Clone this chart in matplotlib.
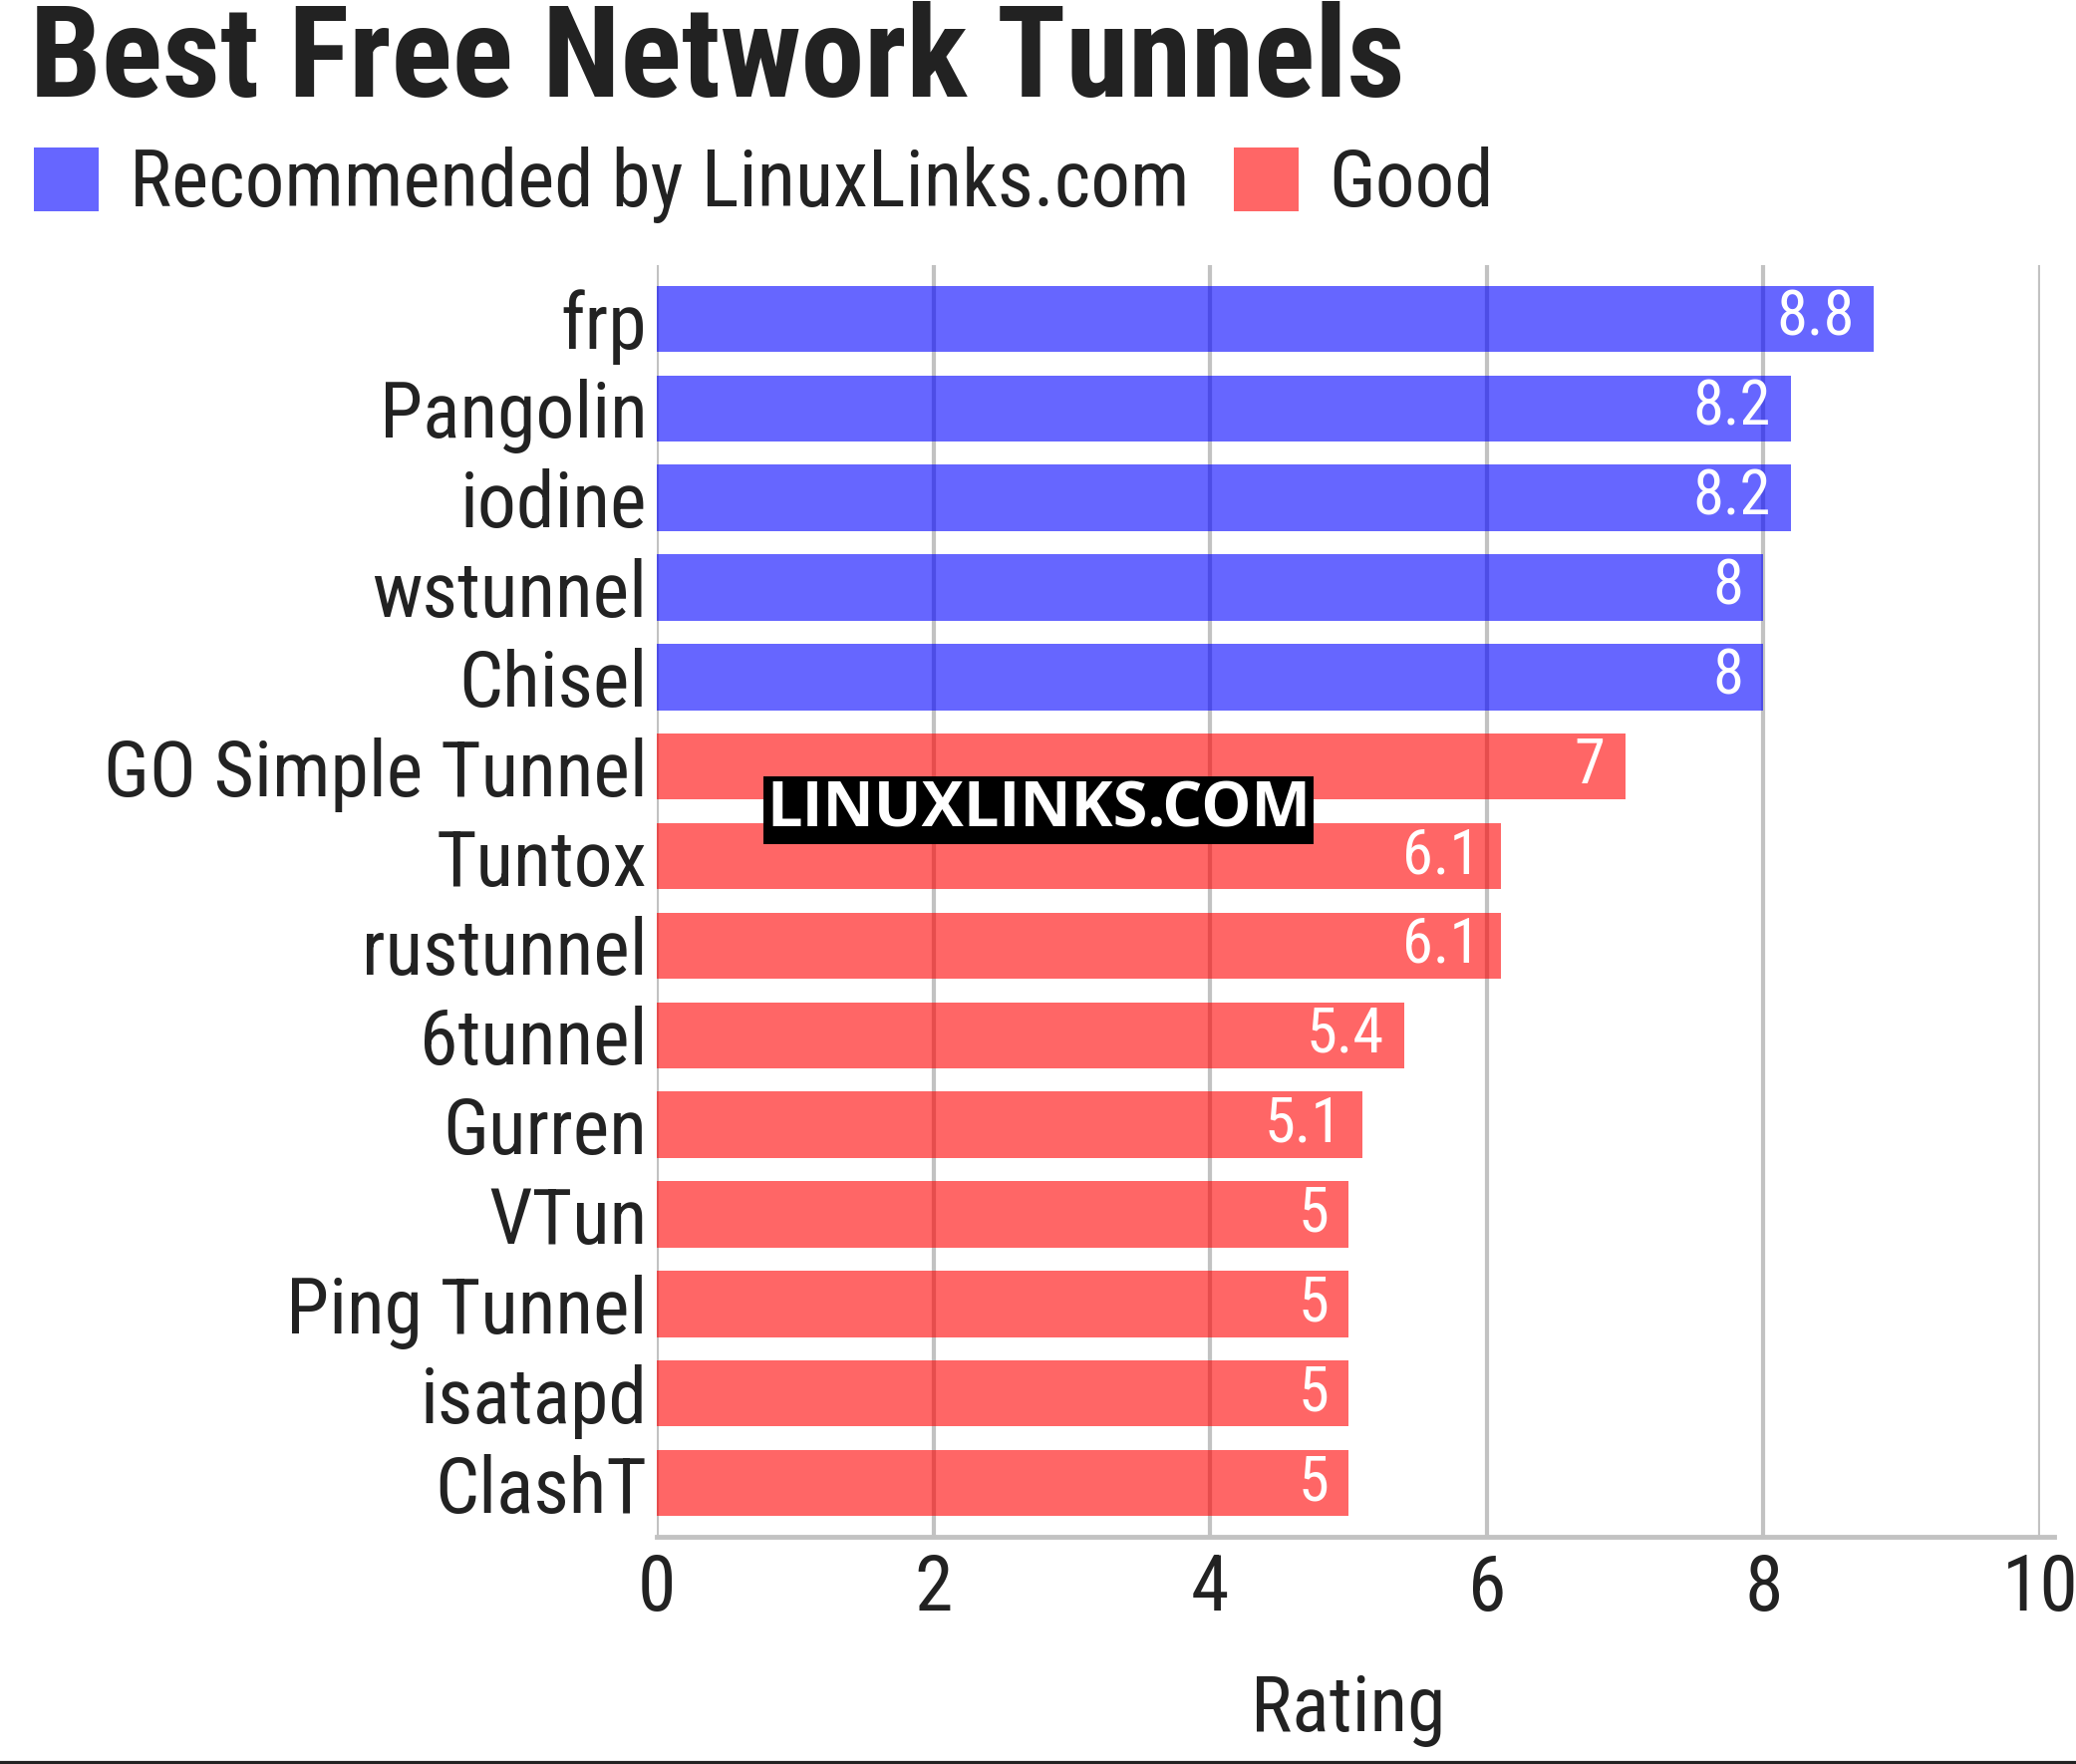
import matplotlib
matplotlib.use("Agg")
import matplotlib.pyplot as plt
from matplotlib.patches import Patch

categories = ["frp", "Pangolin", "iodine", "wstunnel", "Chisel", "GO Simple Tunnel",
              "Tuntox", "rustunnel", "6tunnel", "Gurren", "VTun", "Ping Tunnel",
              "isatapd", "ClashT"]
ratings = [8.8, 8.2, 8.2, 8.0, 8.0, 7.0, 6.1, 6.1, 5.4, 5.1, 5.0, 5.0, 5.0, 5.0]
groups = ["Recommended by LinuxLinks.com"] * 5 + ["Good"] * 9
group_colors = {"Recommended by LinuxLinks.com": "#0000ff", "Good": "#ff0000"}
BAR_ALPHA = 0.6
xticks = [0, 2, 4, 6, 8, 10]

FONT = "Roboto Condensed"
TXT = "#222222"
plt.rcParams['font.family'] = [FONT, 'DejaVu Sans']

fig = plt.figure(figsize=(20.83, 17.70), dpi=100)
ax = fig.add_axes([659/2083, 1-1542/1770, (2047-659)/2083, (1542-266)/1770])

ypos = list(range(len(categories)))
colors = [group_colors[g] for g in groups]
ax.barh(ypos, ratings, height=0.74, color=colors, alpha=BAR_ALPHA, zorder=2)
for y, v in zip(ypos, ratings):
    ax.annotate(f"{v:g}", xy=(v, y), xytext=(-20, 0), textcoords="offset pixels",
                ha="right", va="center", color="white", fontsize=45, zorder=4)

ax.set_xlim(0, 10)
ax.set_ylim(13.6, -0.6)
ax.set_xticks(xticks)
ax.set_xticklabels([str(t) for t in xticks], fontsize=56, color=TXT)
ax.set_yticks(ypos)
ax.set_yticklabels(categories, fontsize=56, color=TXT)
ax.tick_params(axis="both", length=0)
ax.tick_params(axis="x", pad=11)
ax.tick_params(axis="y", pad=7)
ax.set_axisbelow(True)
ax.grid(axis="x", color="#c2c2c2", linewidth=3, zorder=0)
for s in ["top", "right", "left"]:
    ax.spines[s].set_visible(False)
ax.spines["bottom"].set_color("#c2c2c2")
ax.spines["bottom"].set_linewidth(3.5)
ax.spines["bottom"].set_bounds(0, 10.1)
ax.spines["bottom"].set_zorder(5)
ax.set_xlabel("Rating", fontsize=56, color=TXT, labelpad=33)

fig.text(30/2083, 1-97/1770, "Best Free Network Tunnels", fontsize=92, fontweight="bold",
         color=TXT, ha="left", va="baseline")

handles = [Patch(facecolor=group_colors[k], alpha=BAR_ALPHA, edgecolor="none")
           for k in group_colors]
fig.legend(handles, list(group_colors.keys()), loc="center left",
           bbox_to_anchor=(34/2083, 1-186/1770), ncol=2, frameon=False, fontsize=57,
           handlelength=0.82, handleheight=0.87, handletextpad=0.39, columnspacing=0.56,
           borderpad=0, borderaxespad=0, labelcolor=TXT)

fig.text(1042/2083, 1-813/1770, "LINUXLINKS.COM", fontsize=45.5, fontweight="bold",
         family="Open Sans", color="white", ha="center", va="center", zorder=10,
         bbox=dict(facecolor="black", edgecolor="none", pad=2))

fig.add_artist(plt.Line2D([0, 1], [1.5/1770, 1.5/1770], transform=fig.transFigure,
                          color=TXT, linewidth=3))

fig.savefig("out.png", dpi=100)
